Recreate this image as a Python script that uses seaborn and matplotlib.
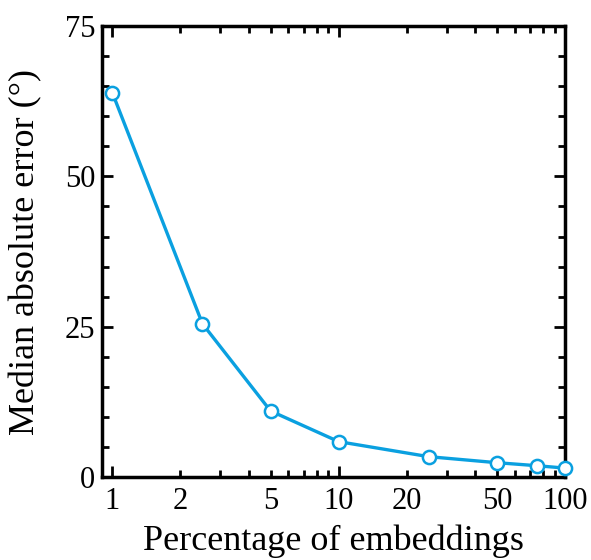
import matplotlib
matplotlib.use("Agg")
import matplotlib.pyplot as plt
import matplotlib.ticker as mticker
import seaborn as sns
import pandas as pd

percentages = [1, 2.5, 5, 10, 25, 50, 75, 100]
median_errors = [63.9, 25.5, 11.0, 5.9, 3.4, 2.4, 1.9, 1.5]
x_tick_labels = {1: "1", 2: "2", 5: "5", 10: "10", 20: "20", 50: "50", 100: "100"}
y_ticks = [0, 25, 50, 75]

sns.set_style("ticks")
plt.rcParams['font.family'] = ['Liberation Serif', 'DejaVu Serif']
plt.rcParams['text.color'] = 'black'
plt.rcParams['axes.labelcolor'] = 'black'
plt.rcParams['xtick.color'] = 'black'
plt.rcParams['ytick.color'] = 'black'

df = pd.DataFrame({"pct": percentages, "err": median_errors})

fig = plt.figure(figsize=(5.91, 5.6), dpi=100)
ax = fig.add_axes([0.1726, 0.148, 0.7834, 0.8056])

color = "#0aa0e0"
sns.lineplot(data=df, x="pct", y="err", ax=ax, color=color, linewidth=2.4,
             marker="o", markersize=9.5, markerfacecolor="white",
             markeredgecolor=color, markeredgewidth=1.8, clip_on=False, zorder=5)

ax.set_xscale("log")
ax.set_xlim(0.9, 100)
ax.set_ylim(0, 75)

ax.xaxis.set_major_locator(mticker.FixedLocator([1, 10, 100]))
ax.xaxis.set_minor_locator(mticker.FixedLocator([2, 3, 4, 5, 6, 7, 8, 9, 20, 30, 40, 50, 60, 70, 80, 90]))
ax.xaxis.set_major_formatter(mticker.FuncFormatter(lambda v, p: x_tick_labels.get(int(round(v)), "")))
ax.xaxis.set_minor_formatter(mticker.FuncFormatter(lambda v, p: x_tick_labels.get(int(round(v)), "")))

ax.yaxis.set_major_locator(mticker.FixedLocator(y_ticks))
ax.yaxis.set_minor_locator(mticker.MultipleLocator(5))

ax.tick_params(which="both", direction="in", top=True, right=True, width=2, labelsize=22,
               colors="black", labelcolor="black")
ax.tick_params(which="major", length=8)
ax.tick_params(which="minor", length=5)
ax.tick_params(axis="x", which="both", pad=7)
ax.tick_params(axis="y", which="both", pad=5)

for s in ax.spines.values():
    s.set_linewidth(2.5)
    s.set_color("black")
    s.set_visible(True)

ax.set_xlabel("Percentage of embeddings", fontsize=26, labelpad=6, color="black")
ax.set_ylabel("Median absolute error (°)", fontsize=26, labelpad=16, color="black")

fig.savefig("out.png", dpi=100)
